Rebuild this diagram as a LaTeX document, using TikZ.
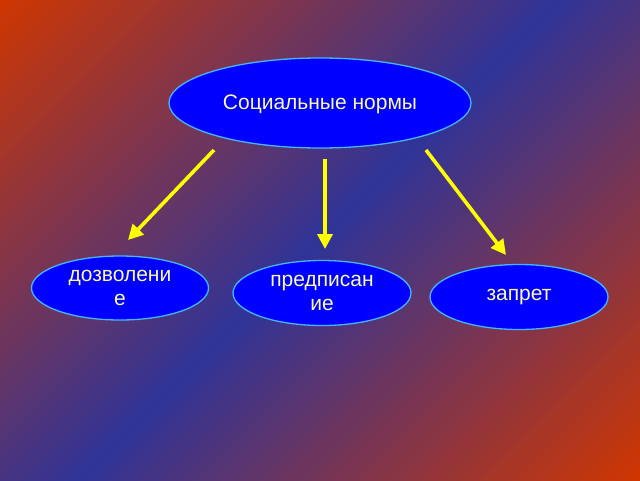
\documentclass[tikz,border=0pt]{standalone}
\usepackage{fontspec}
\setmainfont{Liberation Sans}
\usetikzlibrary{shapes.geometric,arrows.meta}
\definecolor{bgred}{RGB}{208,54,0}
\definecolor{bgblue}{RGB}{48,52,152}
\definecolor{ellfill}{RGB}{0,0,255}
\definecolor{ellline}{RGB}{70,180,255}
\definecolor{txt}{RGB}{250,250,170}
\definecolor{arr}{RGB}{255,255,0}
\tikzset{
  oval/.style={ellipse, draw=ellline, line width=1.3pt, fill=ellfill, inner sep=0pt, text=txt, align=center, font=\fontsize{21}{24}\selectfont},
  arrowline/.style={draw=arr, line width=3.6pt, -{Triangle[length=15pt,width=15pt]}}
}
\begin{document}
\begin{tikzpicture}[x=1pt,y=-1pt]
\useasboundingbox (0,0) rectangle (640,480);
\begin{scope}
\clip (0,0) rectangle (640,480);
\foreach \k in {0,...,111} {
  \pgfmathsetmacro\p{100*(1-abs(2*(\k+0.5)/112-1))}
  \fill[bgblue!\p!bgred] (\k*10-0.5,0) -- (\k*10+10.5,0) -- (\k*10+10.5-600,600) -- (\k*10-0.5-600,600) -- cycle;
}
\end{scope}
\node[oval, minimum width=302pt, minimum height=90pt, text depth=2pt] (top) at (320,103) {Социальные нормы};
\node[oval, minimum width=177pt, minimum height=64pt] (l) at (120,288) {дозволени\\е};
\node[oval, minimum width=178pt, minimum height=65pt] (m) at (322,293) {предписан\\ие};
\node[oval, minimum width=178pt, minimum height=65pt] (r) at (519,297) {запрет};
\coordinate (a1s) at (214,150);
\coordinate (a1e) at (128,240);
\coordinate (a2s) at (325,159);
\coordinate (a2e) at (325,249);
\coordinate (a3s) at (426,150);
\coordinate (a3e) at (506,255);
\draw[arrowline] (a1s) -- (a1e);
\draw[arrowline] (a2s) -- (a2e);
\draw[arrowline] (a3s) -- (a3e);
\end{tikzpicture}
\end{document}
